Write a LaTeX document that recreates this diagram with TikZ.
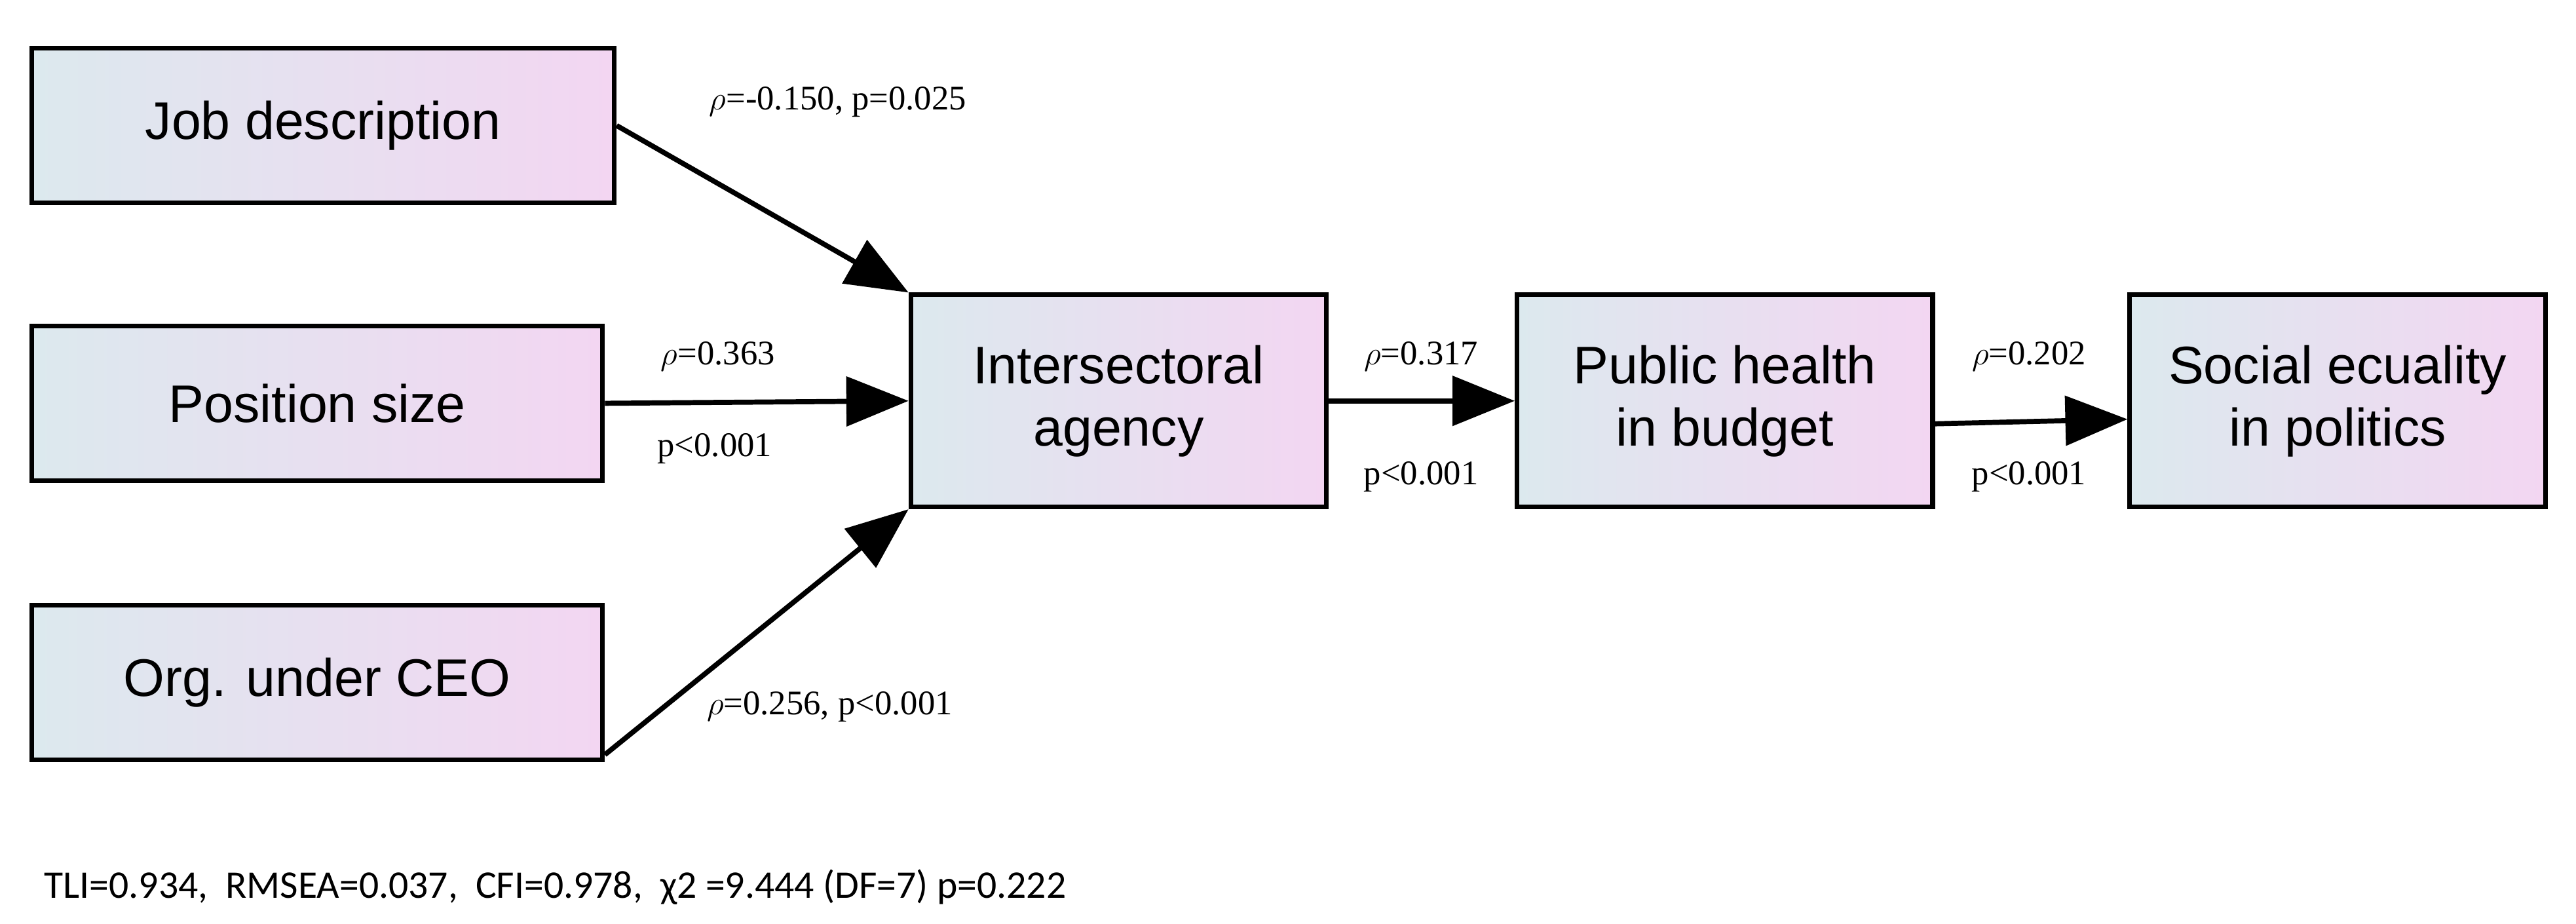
\documentclass[tikz,border=0pt]{standalone}
\usepackage{fontspec}
\setmainfont{Liberation Serif}
\newfontfamily\boxfont{Liberation Sans}
\newfontfamily\fitfont{Carlito}
\usetikzlibrary{arrows.meta}
\definecolor{boxleft}{HTML}{DCE9EE}
\definecolor{boxright}{HTML}{F3D6F2}
\begin{document}
\begin{tikzpicture}[x=0.0251cm,y=-0.0251cm,
	var/.style={draw=black,line width=2pt,left color=boxleft,right color=boxright,anchor=north west,
		align=center,font=\boxfont\fontsize{23}{27}\selectfont},
	path/.style={line width=2.2pt,-{Triangle[length=0.95cm,width=0.75cm]}},
	coef/.style={font=\fontsize{15}{18}\selectfont}]
	\useasboundingbox (0,0) rectangle (1568,562);
	\node[var,minimum width=8.9cm,minimum height=2.36cm] (job) at (18,28) {Job description};
	\node[var,minimum width=8.72cm,minimum height=2.36cm] (pos) at (18,197) {Position size};
	\node[var,minimum width=8.72cm,minimum height=2.36cm] (org) at (18,367) {Org. under CEO};
	\node[var,minimum width=6.35cm,minimum height=3.24cm] (inter) at (553,178) {Intersectoral\\agency};
	\node[var,minimum width=6.35cm,minimum height=3.24cm] (pub) at (922,178) {Public health\\in budget};
	\node[var,minimum width=6.35cm,minimum height=3.24cm] (soc) at (1295,178) {Social ecuality\\in politics};
	\draw[path] (job.east) ++(0,0) -- (inter.north west);
	\draw[path] (pos.east) -- (inter.west);
	\draw[path] ([yshift=-1.1cm]org.east) -- (inter.south west);
	\draw[path] (inter.east) -- (pub.west);
	\draw[path] ([yshift=-0.35cm]pub.east) -- ([yshift=-0.28cm]soc.west);
	\node[coef] (c1) at (510,62) {$\rho$=-0.150, p=0.025};
	\node[coef] (c2) at (437,217) {$\rho$=0.363};
	\node[coef] (c3) at (435,273) {p<0.001};
	\node[coef] (c4) at (865,217) {$\rho$=0.317};
	\node[coef] (c5) at (865,290) {p<0.001};
	\node[coef] (c6) at (1235,217) {$\rho$=0.202};
	\node[coef] (c7) at (1235,290) {p<0.001};
	\node[coef] (c8) at (505,430) {$\rho$=0.256, p<0.001};
	\node[font=\fitfont\fontsize{17}{20}\selectfont,anchor=west] (fit) at (22,540) {TLI=0.934,\ \ RMSEA=0.037,\ \ CFI=0.978,\ \ χ2 =9.444 (DF=7) p=0.222};
\end{tikzpicture}
\end{document}
